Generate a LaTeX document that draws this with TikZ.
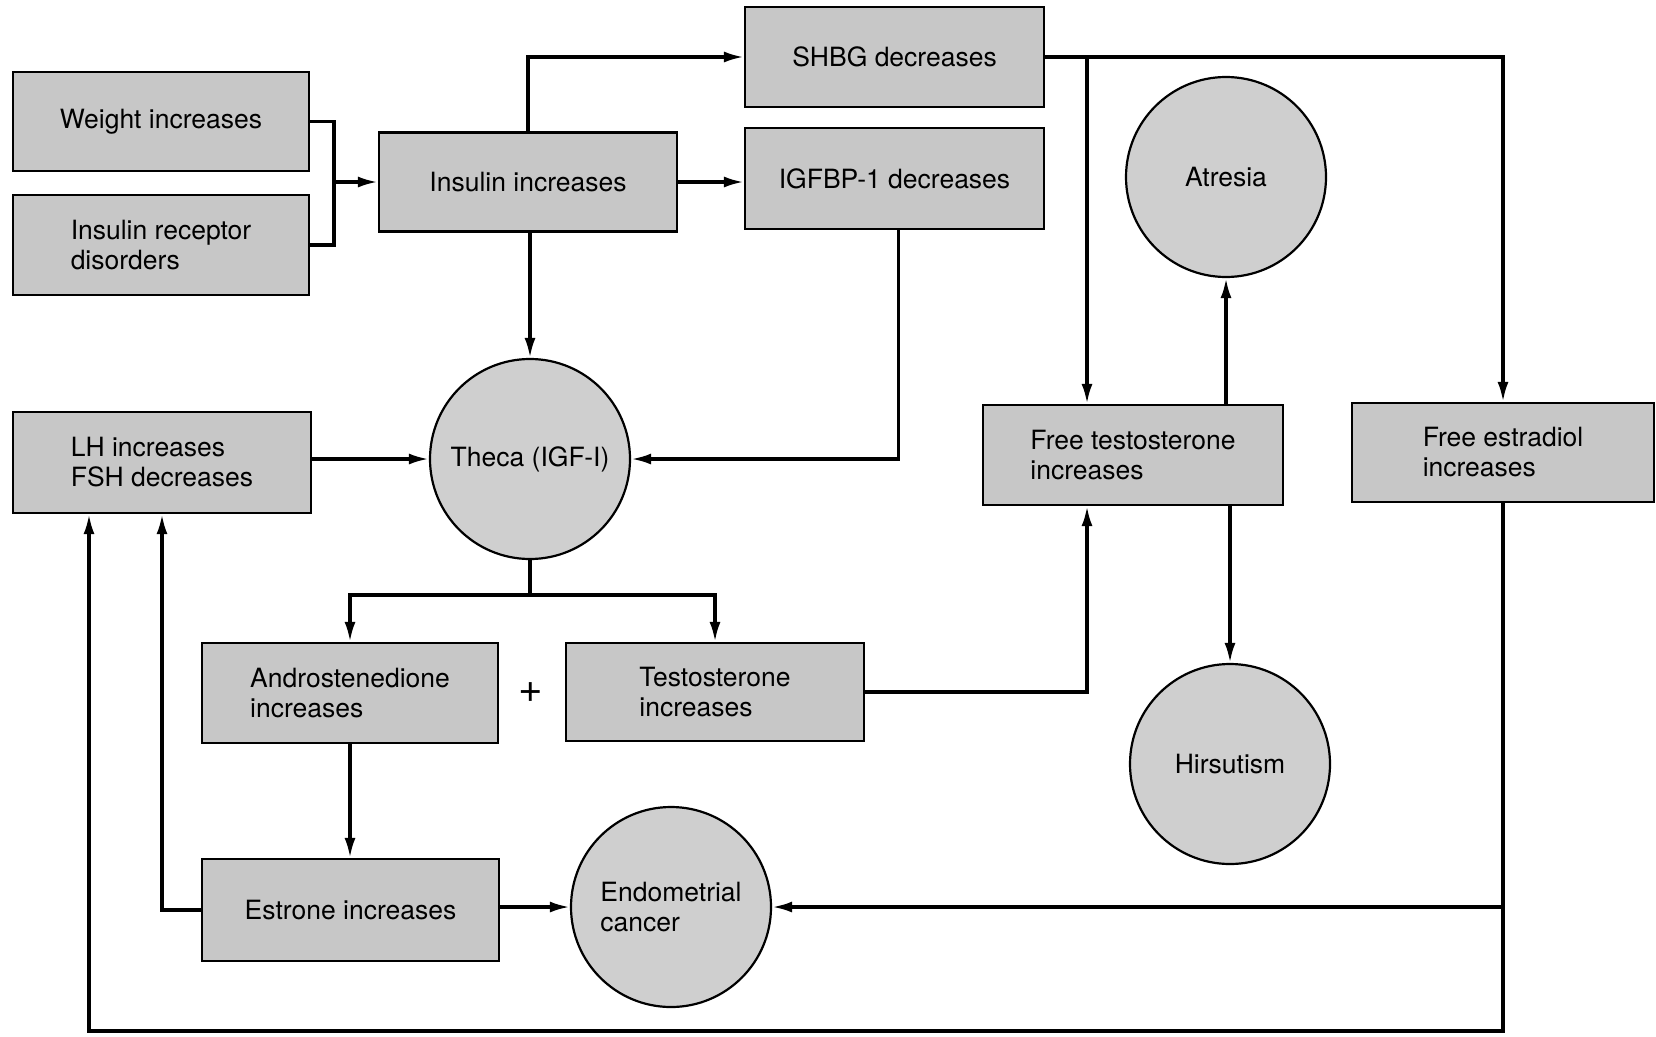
\documentclass[tikz,border=0pt]{standalone}
\usepackage{fontspec}
\setmainfont{TeX Gyre Heros}
\usetikzlibrary{arrows.meta}
\tikzset{
  box/.style={draw=black, line width=2.2pt, fill=black!22, rectangle, align=left, inner sep=0pt,
    font=\fontsize{26.5}{30}\selectfont},
  blob/.style={draw=black, line width=2.2pt, fill=black!19, circle, minimum size=200pt, inner sep=0pt, align=left,
    font=\fontsize{26.5}{30}\selectfont},
  conn/.style={line width=3.2pt, draw=black},
  arr/.style={conn, -{Latex[length=20pt,width=11pt]}},
}
\begin{document}
\begin{tikzpicture}[x=1pt,y=-1pt]
\useasboundingbox[fill=white] (0,0) rectangle (1656,1036);
% boxes
\node[box, minimum width=296pt, minimum height=99pt] (w) at (161,121.5) {Weight increases};
\node[box, minimum width=296pt, minimum height=100pt] (r) at (161,245) {Insulin receptor\\disorders};
\node[box, minimum width=298pt, minimum height=99pt] (ins) at (528,182) {Insulin increases};
\node[box, minimum width=299pt, minimum height=100pt] (shbg) at (894.5,57) {SHBG decreases};
\node[box, minimum width=299pt, minimum height=101pt] (igf) at (894.5,178.5) {IGFBP-1 decreases};
\node[box, minimum width=298pt, minimum height=101pt] (lh) at (162,462.5) {LH increases\\FSH decreases};
\node[box, minimum width=300pt, minimum height=100pt] (ft) at (1133,455) {Free testosterone\\increases};
\node[box, minimum width=302pt, minimum height=99pt] (fe) at (1503,452.5) {Free estradiol\\increases};
\node[box, minimum width=296pt, minimum height=100pt] (andro) at (350,693) {Androstenedione\\increases};
\node[box, minimum width=298pt, minimum height=98pt] (testo) at (715,692) {Testosterone\\increases};
\node[box, minimum width=297pt, minimum height=102pt] (estr) at (350.5,910) {Estrone increases};
% circles
\node[blob] (atr) at (1226,177) {Atresia};
\node[blob] (theca) at (530,459) {Theca (IGF-I)};
\node[blob] (hir) at (1230,764) {Hirsutism};
\node[blob] (endo) at (671,907) {Endometrial\\cancer};
\node[font=\fontsize{42}{42}\selectfont] (plus) at (531,693) {+};
% junctions
\coordinate (j1) at (334,182);
\coordinate (tb) at (530,595);
\coordinate (c1) at (89,1031);
% connectors
\draw[conn] (w.east) -| (j1) |- (r.east);
\draw[arr] (j1) -- (ins.west);
\draw[arr] (ins.north) |- (shbg.west);
\draw[arr] (ins.east) -- (ins.east -| igf.west);
\draw[arr] (theca.north |- ins.south) -- (theca.north);
\draw[arr] ([xshift=4pt]igf.south) |- (theca.east);
\draw[arr] (theca.west -| lh.east) -- (theca.west);
\draw[conn] (theca.south) -- (tb);
\draw[arr] (tb) -| (andro.north);
\draw[arr] (tb) -| (testo.north);
\draw[arr] (testo.east) -| ([xshift=-46pt]ft.south);
\draw[arr] (shbg.east) -| (fe.north);
\draw[arr] ([xshift=-46pt]ft.north |- shbg.east) -- ([xshift=-46pt]ft.north);
\draw[arr] (atr.south |- ft.north) -- (atr.south);
\draw[arr] (hir.north |- ft.south) -- (hir.north);
\draw[arr] (fe.south) |- (c1) -- (c1 |- lh.south);
\draw[arr] (fe.south |- endo.east) -- (endo.east);
\draw[arr] (endo.west -| estr.east) -- (endo.west);
\draw[arr] (estr.west) -| (lh.south);
\draw[arr] (andro.south) -- (andro.south |- estr.north);
\end{tikzpicture}
\end{document}
